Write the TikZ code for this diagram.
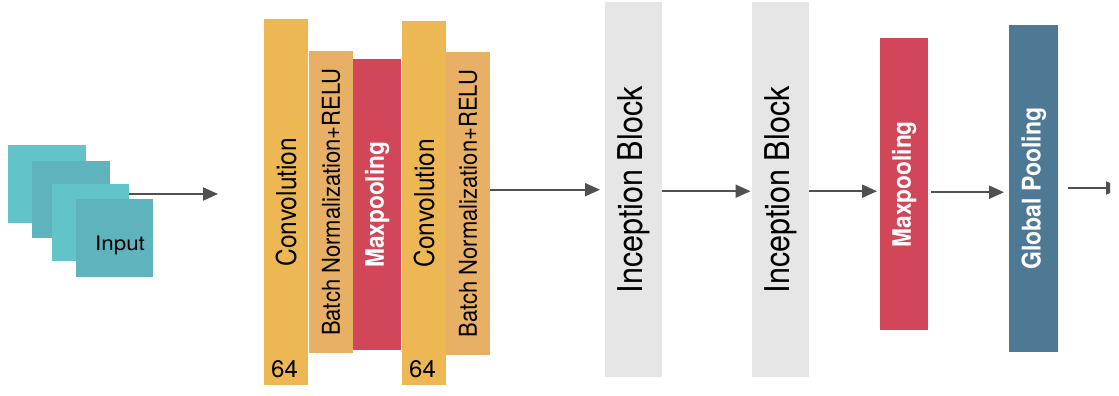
\documentclass[tikz,border=0pt]{standalone}
\usepackage{fontspec}
\setmainfont{TeX Gyre Heros}
\usetikzlibrary{arrows.meta}
\definecolor{convc}{HTML}{EDB853}
\definecolor{bnc}{HTML}{E8B064}
\definecolor{maxc}{HTML}{D14759}
\definecolor{incc}{HTML}{E6E6E6}
\definecolor{gpc}{HTML}{4E7994}
\definecolor{inlight}{HTML}{62C4C9}
\definecolor{indark}{HTML}{5FB3BC}
\definecolor{arrc}{HTML}{505050}
\newcommand{\hs}[1]{\scalebox{1.12}[1]{#1}}
\newcommand{\vt}[1]{\hs{\rotatebox{90}{#1}}}
\tikzset{
  blk/.style={draw=none, inner sep=0pt, anchor=north west},
  arr/.style={draw=arrc, line width=2pt, -{Triangle[length=15pt,width=13pt]}},
  numlab/.style={inner sep=0pt, anchor=south west, font=\fontsize{24}{25}\selectfont},
}
\begin{document}
\begin{tikzpicture}[x=1pt,y=-1pt]
\useasboundingbox[fill=white] (0,0) rectangle (1119,396);
% input stack
\node[blk, fill=inlight, minimum width=78pt, minimum height=78pt] (in1) at (8,145) {};
\node[blk, fill=indark, minimum width=78pt, minimum height=77pt] (in2) at (32,161) {};
\node[blk, fill=inlight, minimum width=77pt, minimum height=77pt] (in3) at (52,184) {};
\node[blk, fill=indark, minimum width=77pt, minimum height=78pt] (in4) at (76,199) {};
\node[inner sep=0pt, font=\fontsize{20}{21}\selectfont] (inlbl) at (120,245) {\hs{Input}};
% first stage
\node[blk, fill=convc, minimum width=44pt, minimum height=366pt, font=\fontsize{24.5}{25}\selectfont] (conv1) at (264,19) {\vt{Convolution}};
\node[blk, fill=bnc, minimum width=44pt, minimum height=302pt, font=\fontsize{22}{23}\selectfont] (bn1) at (309,51) {\vt{Batch Normalization+RELU}};
\node[blk, fill=maxc, minimum width=48pt, minimum height=291pt, text=white, font=\fontsize{22.7}{23}\selectfont\bfseries] (max1) at (353,59) {\vt{Maxpooling}};
\node[blk, fill=convc, minimum width=44pt, minimum height=364pt, font=\fontsize{24.5}{25}\selectfont] (conv2) at (402,21) {\vt{Convolution}};
\node[blk, fill=bnc, minimum width=44pt, minimum height=303pt, font=\fontsize{22}{23}\selectfont] (bn2) at (446,52) {\vt{Batch Normalization+RELU}};
\node[numlab] (n64a) at ([xshift=7pt,yshift=7pt]conv1.south west) {64};
\node[numlab] (n64b) at ([xshift=7pt,yshift=7pt]conv2.south west) {64};
% inception
\node[blk, fill=incc, minimum width=57pt, minimum height=375pt, font=\fontsize{30.5}{31}\selectfont] (inc1) at (605,2) {\vt{Inception Block}};
\node[blk, fill=incc, minimum width=57pt, minimum height=375pt, font=\fontsize{30.5}{31}\selectfont] (inc2) at (752,2) {\vt{Inception Block}};
% tail
\node[blk, fill=maxc, minimum width=48pt, minimum height=292pt, text=white, font=\fontsize{22.7}{23}\selectfont\bfseries] (max2) at (880,38) {\vt{Maxpooling}};
\node[blk, fill=gpc, minimum width=49pt, minimum height=327pt, text=white, font=\fontsize{23}{24}\selectfont\bfseries] (gp) at (1009,25) {\vt{Global Pooling}};
% connectors
\coordinate (a1end) at (218,194);
\coordinate (outend) at (1121,188);
\draw[arr] (in3.east |- a1end) -- (a1end);
\draw[arr, shorten >=5pt] (bn2.east |- inc1.west) -- (inc1.west);
\draw[arr, shorten >=1.5pt] ([yshift=-1.5pt]inc1.east) -- ([yshift=-1.5pt]inc2.west);
\draw[arr, shorten >=3pt] ([yshift=-1.5pt]inc2.east) -- ([yshift=-1.5pt]inc2.east -| max2.west);
\draw[arr, shorten <=3pt, shorten >=5pt] ([yshift=-8pt]max2.east) -- ([yshift=-8pt]max2.east -| gp.west);
\begin{scope}
\clip (0,0) rectangle (1110,396);
\draw[arr, shorten <=10pt] (gp.east |- outend) -- (outend);
\end{scope}
\end{tikzpicture}
\end{document}
